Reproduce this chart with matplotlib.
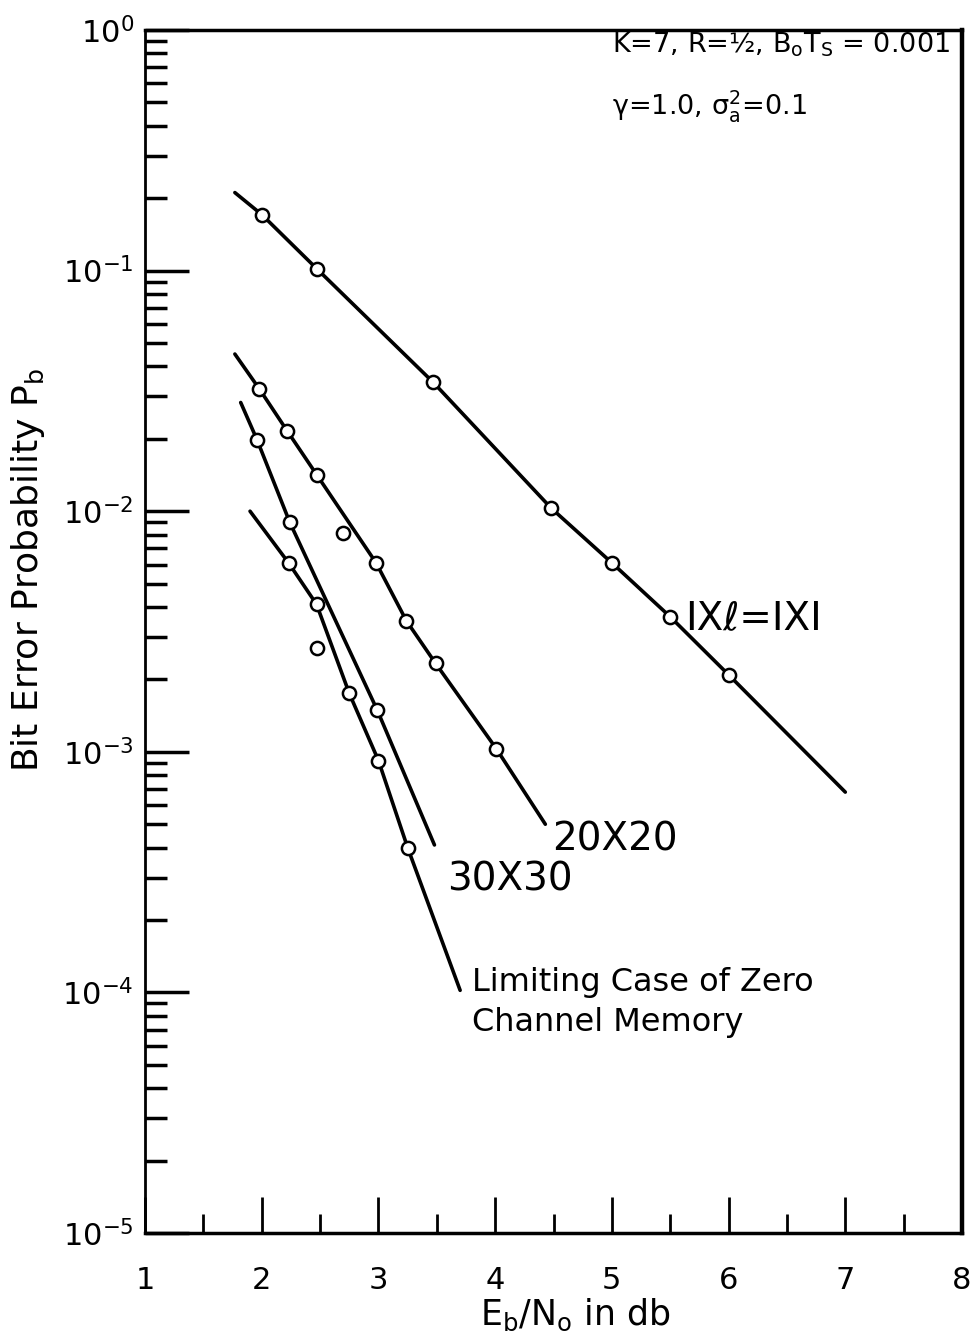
import numpy as np
import matplotlib
matplotlib.use('Agg')
import matplotlib.pyplot as plt
from matplotlib.ticker import FixedLocator, NullFormatter

plt.rcParams['font.family'] = ['DejaVu Sans']
plt.rcParams['mathtext.default'] = 'regular'

# I x l = 1 x 1 (no interleaving)
snr_1x1 = [2.0, 2.47, 3.47, 4.48, 5.0, 5.5, 6.0]
pb_1x1 = [0.171, 0.102, 0.0343, 0.0103, 0.0061, 0.00364, 0.00209]
curve_1x1_x = [1.77, 2.0, 2.47, 3.47, 4.48, 5.0, 5.5, 6.0, 7.0]
curve_1x1_y = [0.211, 0.171, 0.102, 0.0343, 0.0103, 0.0061, 0.00364, 0.00209, 6.8e-4]

# 20 x 20 interleaver
snr_20 = [1.98, 2.22, 2.47, 2.70, 2.98, 3.24, 3.49, 4.01]
pb_20 = [0.0322, 0.0215, 0.0142, 0.0081, 0.0061, 0.0035, 0.00233, 0.00103]
curve_20_x = [1.77, 1.98, 2.22, 2.47, 2.98, 3.24, 3.49, 4.01, 4.43]
curve_20_y = [0.045, 0.0322, 0.0215, 0.0142, 0.0061, 0.0035, 0.00233, 0.00103, 5.0e-4]

# 30 x 30 interleaver
snr_30 = [1.96, 2.24, 2.99]
pb_30 = [0.0198, 0.0090, 0.00149]
curve_30_x = [1.82, 1.96, 2.24, 2.99, 3.48]
curve_30_y = [0.0283, 0.0198, 0.0090, 0.00149, 4.1e-4]

# limiting case of zero channel memory
snr_lim = [2.23, 2.47, 2.47, 2.75, 3.0, 3.25]
pb_lim = [0.0061, 0.0041, 0.0027, 0.00175, 0.00092, 0.00040]
curve_lim_x = [1.90, 2.23, 2.47, 2.75, 3.0, 3.25, 3.70]
curve_lim_y = [0.0100, 0.0061, 0.0041, 0.00175, 0.00092, 0.00040, 1.02e-4]

x_ticks = [1, 2, 3, 4, 5, 6, 7, 8]
y_ticks = [1e-5, 1e-4, 1e-3, 1e-2, 1e-1, 1e0]
y_tick_labels = [r'$10^{-5}$', r'$10^{-4}$', r'$10^{-3}$', r'$10^{-2}$', r'$10^{-1}$', r'$10^{0}$']

W, H = 972, 1341
fig = plt.figure(figsize=(W / 100, H / 100), dpi=100)
ax = fig.add_axes([145 / W, 1 - 1233 / H, (962 - 145) / W, (1233 - 30) / H])

ax.set_yscale('log')
ax.set_xlim(1, 8)
ax.set_ylim(1e-5, 1)

curves = [
    (curve_1x1_x, curve_1x1_y, snr_1x1, pb_1x1),
    (curve_20_x, curve_20_y, snr_20, pb_20),
    (curve_30_x, curve_30_y, snr_30, pb_30),
    (curve_lim_x, curve_lim_y, snr_lim, pb_lim),
]
for cx, cy, px, py in curves:
    ax.plot(cx, cy, color='black', lw=2.6, solid_capstyle='round', zorder=2)
    ax.plot(px, py, 'o', ls='none', mfc='white', mec='black', ms=9.5, mew=1.8, zorder=3)

# ticks
ax.set_xticks(x_ticks)
ax.set_xticklabels([str(t) for t in x_ticks])
ax.xaxis.set_minor_locator(FixedLocator(np.arange(1.5, 8, 1.0)))
ax.set_yticks(y_ticks)
ax.set_yticklabels(y_tick_labels)
ax.yaxis.set_minor_formatter(NullFormatter())
ax.tick_params(axis='x', which='major', direction='in', length=26, width=2,
               pad=24, labelsize=22, top=False)
ax.tick_params(axis='x', which='minor', direction='in', length=14, width=2, top=False)
ax.tick_params(axis='y', which='major', direction='in', length=32, width=2.5,
               pad=8, labelsize=22, right=False)
ax.tick_params(axis='y', which='minor', direction='in', length=16, width=2.5, right=False)

for side, lw in [('left', 2.0), ('bottom', 2.5), ('top', 2.5), ('right', 3.2)]:
    ax.spines[side].set_linewidth(lw)

# curve labels
ax.text(5.63, 0.0036, 'IX\u2113=IXI', fontsize=28, ha='left', va='center')
ax.text(4.49, 4.3e-4, '20X20', fontsize=28, ha='left', va='center')
ax.text(3.59, 2.94e-4, '30X30', fontsize=28, ha='left', va='center')
ax.text(3.80, 1.27e-4, 'Limiting Case of Zero\nChannel Memory', fontsize=23,
        ha='left', va='top', linespacing=1.35)

# parameters box text
ax.text(0.572, 0.9875, r'K=7, R=½, B$_{\rm o}$T$_{\rm S}$ = 0.001', fontsize=19.5,
        transform=ax.transAxes, ha='left', va='center')
ax.text(0.572, 0.937, r'$\gamma$=1.0, $\sigma_{\rm a}^{2}$=0.1', fontsize=19.5,
        transform=ax.transAxes, ha='left', va='center')

fig.text(28 / W, 1 - 570 / H, r'Bit Error Probability P$_{\rm b}$', rotation=90,
         fontsize=26, ha='center', va='center')
fig.text(575 / W, 1 - 1315 / H, r'E$_{\rm b}$/N$_{\rm o}$ in db', fontsize=25,
         ha='center', va='center')

fig.savefig('out.png', dpi=100)
